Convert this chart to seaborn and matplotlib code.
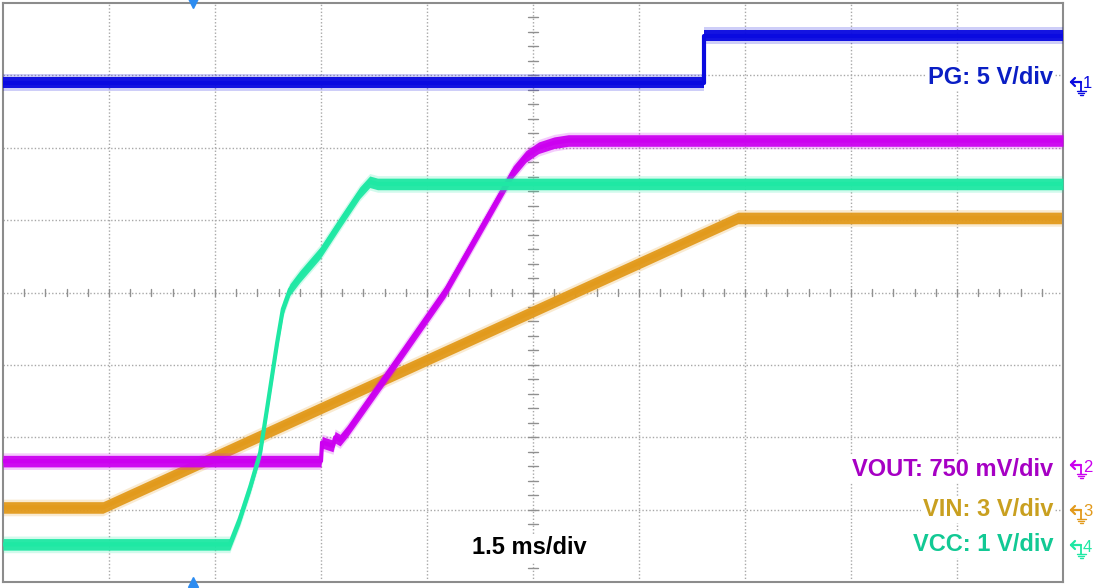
import numpy as np
import pandas as pd
import matplotlib
matplotlib.use("Agg")
import matplotlib.pyplot as plt
import seaborn as sns
from matplotlib.lines import Line2D

# time in ms (1.5 ms/div, 10 div), position in screen divisions (0..8, bottom = 0)
pg_t = [0.0, 9.92, 9.92, 15.0]
pg_y = [6.90, 6.90, 7.55, 7.55]

vin_t = [0.0, 1.415, 10.40, 15.0]
vin_y = [1.03, 1.03, 5.03, 5.03]

vout_t = [0.0, 4.50, 4.515, 4.67, 4.70, 4.77, 4.87, 5.62, 6.255, 6.89, 7.22, 7.40, 7.58, 7.80, 8.00, 15.0]
vout_y = [1.67, 1.67, 1.93, 1.88, 2.00, 1.96, 2.08, 3.12, 4.01, 5.10, 5.67, 5.88, 6.00, 6.07, 6.10, 6.10]

vcc_t = [0.0, 3.21, 3.35, 3.50, 3.64, 3.75, 3.88, 3.96, 4.06, 4.20, 4.49, 4.77, 5.05, 5.19, 5.30, 15.0]
vcc_y = [0.52, 0.52, 0.87, 1.32, 1.79, 2.48, 3.31, 3.77, 4.04, 4.22, 4.55, 4.97, 5.38, 5.53, 5.50, 5.50]

trigger_t = 2.69

labels = ["PG: 5 V/div", "VOUT: 750 mV/div", "VIN: 3 V/div", "VCC: 1 V/div"]
label_y = [6.97, 1.56, 1.00, 0.52]
timebase = "1.5 ms/div"

# trace colour, label colour
C_PG, T_PG = "#0a0ae0", "#0a1ec4"
C_VOUT, T_VOUT = "#cc00f0", "#a600c4"
C_VIN, T_VIN = "#e29a1c", "#c9a020"
C_VCC, T_VCC = "#1fe8a4", "#12c994"

sns.set_style("white")
plt.rcParams["font.family"] = ["Liberation Sans", "DejaVu Sans"]

W, H = 1095, 588
fig = plt.figure(figsize=(W / 100, H / 100), dpi=100)
ax = fig.add_axes([3 / W, 6 / H, 1060 / W, 579 / H])
ax.set_xlim(0, 15)
ax.set_ylim(0, 8)

# scope graticule
for x in np.arange(1.5, 15, 1.5):
    ax.axvline(x, color="#a8a8a8", lw=1, ls=(0, (1, 1.5)), zorder=0)
for y in range(1, 8):
    ax.axhline(y, color="#a8a8a8", lw=1, ls=(0, (1, 1.5)), zorder=0)
for x in np.arange(0.3, 15, 0.3):
    ax.plot([x, x], [3.95, 4.05], color="#909090", lw=1, zorder=0)
for y in np.arange(0.2, 8, 0.2):
    ax.plot([7.43, 7.57], [y, y], color="#909090", lw=1, zorder=0)

traces = [
    ("VIN", vin_t, vin_y, C_VIN, 2),
    ("VOUT", vout_t, vout_y, C_VOUT, 3),
    ("VCC", vcc_t, vcc_y, C_VCC, 4),
    ("PG", pg_t, pg_y, C_PG, 5),
]

for name, t, y, c, z in traces:
    t = np.array(t)
    y = np.array(y)
    ax.fill_between(t, y - 0.115, y + 0.115, color=c, alpha=0.2, lw=0, zorder=z)
    ax.fill_between(t, y - 0.08, y + 0.08, color=c, alpha=0.95, lw=0, zorder=z + 0.1)
    df = pd.DataFrame({"t": t, "y": y})
    sns.lineplot(data=df, x="t", y="y", sort=False, estimator=None,
                 color=c, lw=3, ax=ax, zorder=z + 0.2)

for s in ax.spines.values():
    s.set_color("#8c8c8c")
    s.set_linewidth(1.5)
ax.set_xticks([])
ax.set_yticks([])
ax.set_xlabel("")
ax.set_ylabel("")

# trigger position markers
ax.plot([trigger_t], [8], marker="v", ms=7, color="#2d8cf0", clip_on=False, zorder=10)
ax.plot([trigger_t], [0], marker="^", ms=7, color="#2d8cf0", clip_on=False, zorder=10)

box = dict(facecolor="white", edgecolor="none", pad=1.5)
for txt, yy, col in zip(labels, label_y, [T_PG, T_VOUT, T_VIN, T_VCC]):
    ax.text(14.86, yy, txt, color=col, fontsize=17, fontweight="bold",
            ha="right", va="center", bbox=box, zorder=12)
ax.text(7.45, 0.47, timebase, color="black", fontsize=17, fontweight="bold",
        ha="center", va="center", bbox=box, zorder=12)


# channel ground reference markers in the right margin
def ground_marker(num, py, col):
    def fx(px):
        return px / W

    def fy(p):
        return 1 - p / H

    x0 = 1071
    fig.add_artist(Line2D([fx(x0), fx(x0 + 10)], [fy(py), fy(py)], color=col, lw=1.6))
    fig.add_artist(Line2D([fx(x0), fx(x0 + 4)], [fy(py), fy(py - 4)], color=col, lw=1.6))
    fig.add_artist(Line2D([fx(x0), fx(x0 + 4)], [fy(py), fy(py + 4)], color=col, lw=1.6))
    fig.add_artist(Line2D([fx(x0 + 10), fx(x0 + 10)], [fy(py), fy(py + 9)], color=col, lw=1.3))
    for i, hw in enumerate([4.5, 3, 1.5]):
        yy = py + 9 + i * 2
        fig.add_artist(Line2D([fx(x0 + 10 - hw), fx(x0 + 10 + hw)], [fy(yy), fy(yy)], color=col, lw=1))
    fig.text(fx(x0 + 12), fy(py + 2), num, color=col, fontsize=12, ha="left", va="center")


ground_marker("1", 82, C_PG)
ground_marker("3", 510, C_VIN)
ground_marker("2", 465, C_VOUT)
ground_marker("4", 545, C_VCC)

fig.savefig("out.png", dpi=100, facecolor="white")
